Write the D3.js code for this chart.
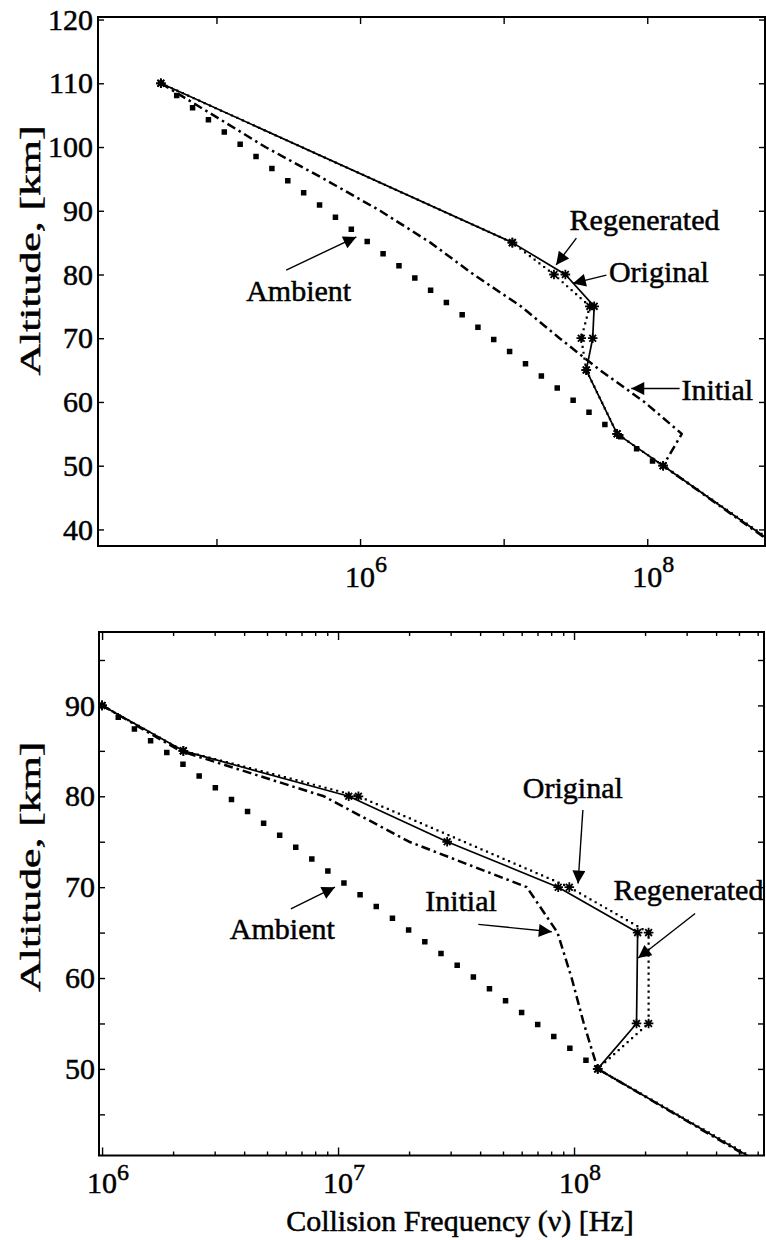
<!DOCTYPE html>
<html><head><meta charset="utf-8">
<script src="https://cdn.jsdelivr.net/npm/d3@7"></script>
<style>html,body{margin:0;padding:0;background:#fff;} svg{display:block;}</style>
</head><body>
<svg id="chart" width="766" height="1240"></svg>
<script>
// ================= DATA =================
// ---- top panel (altitude km, collision frequency Hz) ----
const topRegenAlt = [110, 85, 80, 75, 70, 65, 55, 50, 35];
const topRegenNu  = [4.1e4, 1.15e7, 2.69e7, 4.27e7, 4.17e7, 3.76e7, 6.17e7, 1.29e8, 1.15e9];
const topOrigAlt  = [110, 85, 80, 75, 70, 65, 55, 50, 35];
const topOrigNu   = [4.1e4, 1.15e7, 2.24e7, 3.98e7, 3.47e7, 3.76e7, 6.17e7, 1.29e8, 1.18e9];
const topInitAlt  = [110, 105, 100, 95, 90, 85, 80, 75, 70, 65, 60, 55, 50, 35];
const topInitNu   = [4.1e4, 9.5e4, 2.19e5, 5.6e5, 1.38e6, 3.09e6, 6.17e6, 1.32e7, 2.45e7, 4.68e7, 9.55e7, 1.74e8, 1.29e8, 1.12e9];
const topAmbAlt   = [110, 100, 90, 80, 70, 60, 50];
const topAmbNu    = [4.1e4, 1.55e5, 5.89e5, 2.24e6, 8.32e6, 3.16e7, 1.2e8];
const topYTicks   = [40, 50, 60, 70, 80, 90, 100, 110, 120];
const topXMajor   = [1e5, 1e6, 1e7, 1e8];
const topXLabels  = [1e6, 1e8];

// ---- bottom panel ----
const botRegenAlt = [90, 85, 80, 75, 70, 65, 55, 50, 40];
const botRegenNu  = [1.0e6, 2.21e6, 1.11e7, 2.9e7, 8.57e7, 1.86e8, 1.84e8, 1.26e8, 5.83e8];
const botOrigAlt  = [90, 85, 80, 70, 65, 55, 50, 40];
const botOrigNu   = [1.0e6, 2.21e6, 1.22e7, 9.55e7, 2.07e8, 2.07e8, 1.26e8, 5.93e8];
const botInitAlt  = [90, 85, 80, 75, 70, 65, 60, 55, 50, 40];
const botInitNu   = [1.0e6, 2.14e6, 8.71e6, 2.0e7, 6.31e7, 8.51e7, 9.77e7, 1.1e8, 1.26e8, 5.74e8];
const botAmbAlt   = [90, 80, 70, 60, 50];
const botAmbNu    = [1.0e6, 3.39e6, 1.12e7, 3.8e7, 1.26e8];
const botYTicks   = [45, 50, 55, 60, 65, 70, 75, 80, 85, 90, 95];
const botYLabels  = [50, 60, 70, 80, 90];
const botXMajor   = [1e6, 1e7, 1e8];
const botXLabels  = [1e6, 1e7, 1e8];

// ---- annotations: label, text anchor [Hz, km], arrow from [Hz, km], arrow to [Hz, km] ----
const topAnnLabels = ["Regenerated", "Original", "Initial", "Ambient"];
const topAnnText   = [[2.88e7, 87.0], [5.41e7, 78.9], [1.73e8, 60.3], [1.61e5, 75.9]];
const topAnnFrom   = [[3.21e7, 85.7], [5.19e7, 79.9], [1.68e8, 62.1], [3.06e5, 80.7]];
const topAnnTo     = [[2.32e7, 81.5], [3.03e7, 78.6], [7.74e7, 62.1], [9.42e5, 85.9]];
const botAnnLabels = ["Original", "Regenerated", "Initial", "Ambient"];
const botAnnText   = [[6.07e7, 79.8], [1.47e8, 68.6], [2.34e7, 67.4], [3.48e6, 64.3]];
const botAnnFrom   = [[1.09e8, 78.5], [3.26e8, 67.1], [3.93e7, 65.9], [6.31e6, 67.6]];
const botAnnTo     = [[1.04e8, 70.4], [1.87e8, 62.2], [8.05e7, 65.1], [9.7e6, 70.0]];

const xTitle = "Collision Frequency (\u03bd) [Hz]";
const yTitle = "Altitude, [km]";

// ================= DRAWING =================
const FONT = "'Liberation Serif','Times New Roman',serif";
const TEXT_STROKE = 0.5;
const svg = d3.select("#chart");
const defs = svg.append("defs");
defs.append("marker").attr("id", "ah").attr("viewBox", "0 0 10 10")
  .attr("refX", 10).attr("refY", 5).attr("markerWidth", 17).attr("markerHeight", 13)
  .attr("markerUnits", "userSpaceOnUse").attr("orient", "auto")
  .append("path").attr("d", "M0,0L10,5L0,10Z").attr("fill", "#000");

const styles = {
  regen: {stroke: 1.7, dash: null, cap: "butt", marker: true},
  orig:  {stroke: 2.2, dash: "0 6", cap: "square", marker: true},
  init:  {stroke: 2.5, dash: "9 4 2.5 4", cap: "butt", marker: false},
  amb:   {stroke: 5.5, dash: "0 20", cap: "square", marker: false}
};

function star(r) {
  const a = r * 0.7071;
  return `M${-r},0H${r}M0,${-r}V${r}M${-a},${-a}L${a},${a}M${-a},${a}L${a},${-a}`;
}

function styleText(sel, size) {
  return sel.attr("font-family", FONT).attr("font-size", size).attr("fill", "#000")
    .attr("stroke", "#000").attr("stroke-width", TEXT_STROKE);
}

function drawPanel(p) {
  const x = d3.scaleLog().domain(p.xDomain).range([p.left, p.right]);
  const y = d3.scaleLinear().domain(p.yDomain).range([p.bottom, p.top]);
  const g = svg.append("g");
  const clipId = "clip" + p.id;
  defs.append("clipPath").attr("id", clipId).append("rect")
    .attr("x", p.left).attr("y", p.top).attr("width", p.right - p.left).attr("height", p.bottom - p.top);

  // ticks
  const minor = [];
  if (p.minor) {
    const lo = Math.floor(Math.log10(p.xDomain[0])), hi = Math.ceil(Math.log10(p.xDomain[1]));
    for (let e = lo; e < hi; e++) for (let m = 2; m <= 9; m++) {
      const v = m * Math.pow(10, e);
      if (v > p.xDomain[0] && v < p.xDomain[1]) minor.push(v);
    }
  }
  const xAxes = [[d3.axisBottom, p.bottom], [d3.axisTop, p.top]];
  xAxes.forEach(([ax, yy]) => {
    g.append("g").attr("transform", `translate(0,${yy})`)
      .call(ax(x).tickValues(p.xMajor).tickSize(-p.majorLen).tickFormat(""))
      .call(s => s.select(".domain").remove());
    if (minor.length)
      g.append("g").attr("transform", `translate(0,${yy})`)
        .call(ax(x).tickValues(minor).tickSize(-4).tickFormat(""))
        .call(s => s.select(".domain").remove());
  });
  const yl = g.append("g").attr("transform", `translate(${p.left},0)`)
    .call(d3.axisLeft(y).tickValues(p.yTicks).tickSize(-6).tickPadding(p.labelPad)
      .tickFormat(d => p.yLabels.includes(d) ? d : ""))
    .call(s => s.select(".domain").remove());
  styleText(yl.selectAll("text"), 30);
  g.append("g").attr("transform", `translate(${p.right},0)`)
    .call(d3.axisRight(y).tickValues(p.yTicks).tickSize(-6).tickFormat(""))
    .call(s => s.select(".domain").remove());
  g.selectAll(".tick line").attr("stroke", "#000").attr("stroke-width", 1.4);

  // x tick labels 10^n
  p.xLabels.forEach(v => {
    const t = styleText(g.append("text").attr("x", x(v) - 15).attr("y", p.xLabelY), 30);
    t.append("tspan").text("10");
    t.append("tspan").attr("dy", -p.supRaise).attr("font-size", 24).text(Math.round(Math.log10(v)));
  });

  // frame
  g.append("rect").attr("x", p.left).attr("y", p.top)
    .attr("width", p.right - p.left).attr("height", p.bottom - p.top)
    .attr("fill", "none").attr("stroke", "#000").attr("stroke-width", 2);

  // series
  const plot = g.append("g").attr("clip-path", `url(#${clipId})`);
  const line = d3.line().x(d => x(d[0])).y(d => y(d[1]));
  p.series.forEach(s => {
    const st = styles[s.style];
    const pts = s.nu.map((v, i) => [v, s.alt[i]]);
    plot.append("path").datum(pts).attr("d", line).attr("fill", "none")
      .attr("stroke", "#000").attr("stroke-width", st.stroke)
      .attr("stroke-dasharray", st.dash).attr("stroke-linecap", st.cap)
      .attr("stroke-linejoin", "round");
    if (st.marker) {
      plot.selectAll(null).data(pts.slice(0, -1)).join("path")
        .attr("d", star(4.8)).attr("transform", d => `translate(${x(d[0])},${y(d[1])})`)
        .attr("stroke", "#000").attr("stroke-width", 1.8).attr("fill", "none");
    }
  });

  // annotations
  p.ann.labels.forEach((lab, i) => {
    styleText(g.append("text").attr("x", x(p.ann.text[i][0])).attr("y", y(p.ann.text[i][1])), 30).text(lab);
    g.append("line")
      .attr("x1", x(p.ann.from[i][0])).attr("y1", y(p.ann.from[i][1]))
      .attr("x2", x(p.ann.to[i][0])).attr("y2", y(p.ann.to[i][1]))
      .attr("stroke", "#000").attr("stroke-width", 1.4).attr("marker-end", "url(#ah)");
  });

  // y title
  const cy = (p.top + p.bottom) / 2 - p.yTitleShift;
  styleText(g.append("text").attr("transform", `translate(40,${cy}) rotate(-90)`)
    .attr("text-anchor", "middle")
    .attr("textLength", 250).attr("lengthAdjust", "spacingAndGlyphs"), 30)
    .text(yTitle);
  return {x, y};
}

drawPanel({
  id: "top", left: 98, right: 765, top: 17, bottom: 546,
  xDomain: [Math.pow(10, 4.175), Math.pow(10, 8.82)], yDomain: [37.4, 120.4],
  xMajor: topXMajor, xLabels: topXLabels, majorLen: 7, minor: false,
  yTicks: topYTicks, yLabels: topYTicks, labelPad: 5,
  xLabelY: 587, supRaise: 15, yTitleShift: 31,
  series: [
    {style: "amb", alt: topAmbAlt, nu: topAmbNu},
    {style: "init", alt: topInitAlt, nu: topInitNu},
    {style: "orig", alt: topOrigAlt, nu: topOrigNu},
    {style: "regen", alt: topRegenAlt, nu: topRegenNu}
  ],
  ann: {labels: topAnnLabels, text: topAnnText, from: topAnnFrom, to: topAnnTo}
});

drawPanel({
  id: "bot", left: 99, right: 764, top: 632, bottom: 1155.5,
  xDomain: [Math.pow(10, 5.987), Math.pow(10, 8.805)], yDomain: [40.47, 98.08],
  xMajor: botXMajor, xLabels: botXLabels, majorLen: 8, minor: true,
  yTicks: botYTicks, yLabels: botYLabels, labelPad: 4,
  xLabelY: 1193, supRaise: 13, yTitleShift: 27,
  series: [
    {style: "amb", alt: botAmbAlt, nu: botAmbNu},
    {style: "init", alt: botInitAlt, nu: botInitNu},
    {style: "orig", alt: botOrigAlt, nu: botOrigNu},
    {style: "regen", alt: botRegenAlt, nu: botRegenNu}
  ],
  ann: {labels: botAnnLabels, text: botAnnText, from: botAnnFrom, to: botAnnTo}
});

styleText(svg.append("text").attr("x", 460).attr("y", 1231).attr("text-anchor", "middle"), 30).text(xTitle);
</script>
</body></html>
